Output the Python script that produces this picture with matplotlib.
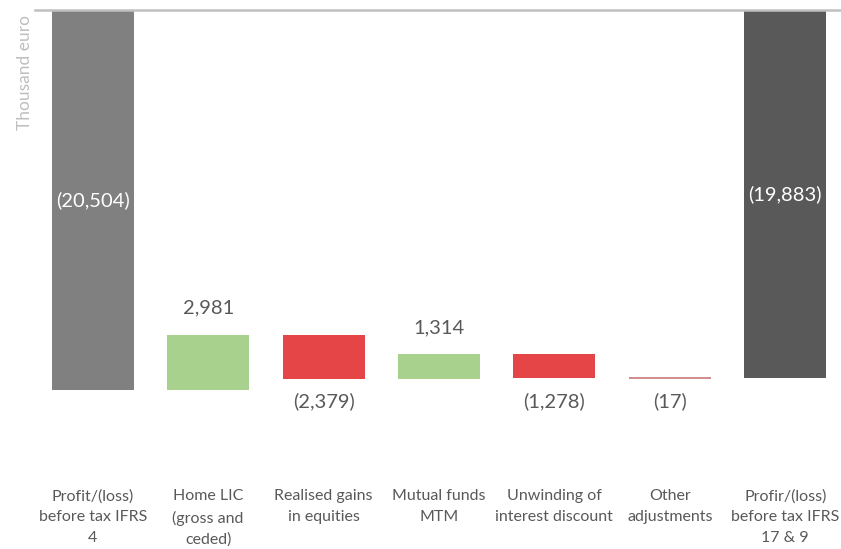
import numpy as np
import matplotlib.pyplot as plt

# categorie e valori (migliaia di euro)
categories = ["Profit/(loss)\nbefore tax IFRS\n4", "Home LIC\n(gross and\nceded)",
              "Realised gains\nin equities", "Mutual funds\nMTM",
              "Unwinding of\ninterest discount", "Other\nadjustments",
              "Profir/(loss)\nbefore tax IFRS\n17 & 9"]
start_value = -20504
changes = [2981, -2379, 1314, -1278, -17]
end_value = -19883

plt.rcParams['font.family'] = ['Lato', 'DejaVu Sans']
txt = '#595959'

fig = plt.figure(figsize=(8.41, 5.49), dpi=100)
ax = fig.add_axes([35 / 841, (549 - 470) / 549, 808 / 841, 460 / 549])

x = np.arange(len(categories))
w = 0.71

# barre iniziale e finale
ax.bar(x[0], start_value, width=w, color='#808080')
ax.bar(x[-1], end_value, width=w, color='#595959')

# passi intermedi
level = start_value
for i, ch in enumerate(changes, start=1):
    col = '#a9d18e' if ch > 0 else '#e64548'
    ax.bar(x[i], ch, bottom=level, width=w, color=col,
           edgecolor='#c87878' if abs(ch) < 100 else 'none', linewidth=1.2)
    top = level + ch if ch > 0 else level
    bot = level if ch > 0 else level + ch
    if ch > 0:
        ax.annotate(f"{ch:,}", (x[i], top), xytext=(0, 13), textcoords='offset points',
                    ha='center', va='bottom', fontsize=14.5, color=txt)
    else:
        ax.annotate(f"({-ch:,})", (x[i], bot), xytext=(0, -10), textcoords='offset points',
                    ha='center', va='top', fontsize=14.5, color=txt)
    level += ch

ax.text(x[0], start_value / 2, f"({-start_value:,})", ha='center', va='center',
        fontsize=14.5, color='white')
ax.text(x[-1], end_value / 2, f"({-end_value:,})", ha='center', va='center',
        fontsize=14.5, color='white')

scale = 380 / 20504
ax.set_ylim(-460 / scale, 0)
ax.set_xlim(-0.5, 6.5)

ax.set_xticks(x)
ax.set_xticklabels(categories, fontsize=11.5, color=txt, linespacing=1.6)
ax.tick_params(axis='x', length=0, pad=14)
ax.set_yticks([])

for s in ['left', 'right', 'bottom']:
    ax.spines[s].set_visible(False)
ax.spines['top'].set_color('#c0c0c0')
ax.spines['top'].set_linewidth(1.8)

fig.text(25 / 841, 1 - 73 / 549, "Thousand euro", rotation=90, ha='center', va='center',
         fontsize=12.5, color='#bfbfbf')

fig.savefig("out.png", dpi=100)
